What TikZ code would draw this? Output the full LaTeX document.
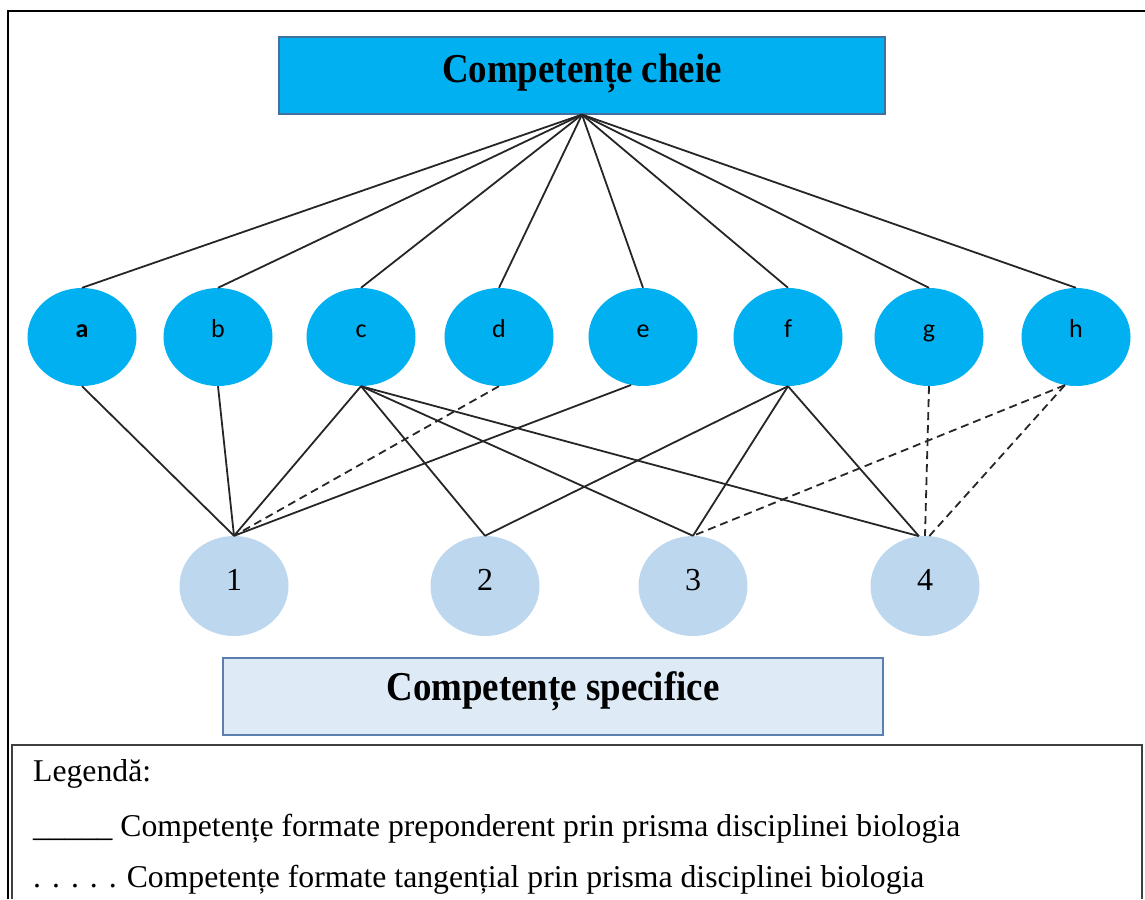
\documentclass[tikz,border=0pt]{standalone}
\usepackage{fontspec}
\usepackage{graphicx}
\setmainfont{Liberation Serif}
\newfontfamily\calfont{Carlito}
\usetikzlibrary{shapes.geometric}
\definecolor{keyblue}{HTML}{00B0F0}
\definecolor{keyborder}{HTML}{41719C}
\definecolor{specblue}{HTML}{BDD7EE}
\definecolor{specbox}{HTML}{DEEBF7}
\definecolor{specborder}{HTML}{5B7FAF}
\newcommand{\legdot}{.\hspace{11pt}}
\begin{document}
\begin{tikzpicture}[x=1pt,y=-1pt,
  titlebox/.style={draw=keyborder, line width=1.2pt, fill=keyblue, minimum width=606pt, minimum height=77pt, inner sep=0pt, text height=25pt, text depth=12pt, font=\fontsize{41}{41}\selectfont\bfseries},
  specbig/.style={draw=specborder, line width=1.2pt, fill=specbox, minimum width=660pt, minimum height=77pt, inner sep=0pt, text height=20pt, text depth=13pt, font=\fontsize{41}{41}\selectfont\bfseries},
  keycell/.style={ellipse, fill=keyblue, minimum width=109pt, minimum height=98pt, inner sep=0pt, text height=5pt, text depth=5pt, font=\calfont\fontsize{26}{26}\selectfont},
  speccell/.style={ellipse, fill=specblue, minimum width=109pt, minimum height=100pt, inner sep=0pt, text height=12pt, text depth=4pt, font=\fontsize{32}{32}\selectfont},
  link/.style={line width=1.8pt, black!85},
  weak/.style={link, dash pattern=on 8pt off 5pt},
  legtext/.style={anchor=base west, inner sep=0pt, font=\fontsize{31.7}{31.7}\selectfont\frenchspacing},
  frameline/.style={line width=2pt, black},
  legendline/.style={line width=2.5pt, black!75}
]
\useasboundingbox (0,0) rectangle (1145,899);
% outer frame
\draw[frameline] (8,899) -- (8,11) -- (1145,11);
% key competences
\node[titlebox] (kc) at (582,75.5) {\scalebox{0.9}[1]{Competențe cheie}};
\node[keycell] (a) at (82,337) {\textbf{a}};
\node[keycell] (b) at (218,337) {b};
\node[keycell] (c) at (361,337) {c};
\node[keycell] (d) at (499,337) {d};
\node[keycell] (e) at (643,337) {e};
\node[keycell] (f) at (788,337) {f};
\node[keycell] (g) at (929,337) {g};
\node[keycell] (h) at (1076,337) {h};
% specific competences
\node[speccell] (s1) at (234,586) {1};
\node[speccell] (s2) at (485,586) {2};
\node[speccell] (s3) at (693,586) {3};
\node[speccell] (s4) at (925,586) {4};
\node[specbig] (sc) at (553,696.5) {\scalebox{0.9}[1]{Competențe specifice}};
% upper links
\foreach \n in {a,b,c,d,e,f,g,h}
  \draw[link] (kc.south) -- (\n.north);
% lower links
\draw[link] (a.south) -- (s1.north);
\draw[link] (b.south) -- (s1.north);
\draw[link] (c.south) -- (s1.north);
\draw[weak] (d.south) -- (s1.north);
\draw[link] (e.256) -- (s1.north);
\draw[link] (c.south) -- (s2.north);
\draw[link] (c.south) -- (s3.north);
\draw[link] (c.south) -- (s4.97);
\draw[link] (f.south) -- (s2.north);
\draw[link] (f.south) -- (s3.north);
\draw[link] (f.south) -- (s4.97);
\draw[weak] (g.south) -- (s4.north);
\draw[weak] (h.257) -- (s3.north);
\draw[weak] (h.257) -- (s4.85);
% legend
\draw[legendline] (12,899) -- (12,745) -- (1142,745) -- (1142,899);
\node[legtext] (leg0) at (33,781) {Legendă:};
\node[legtext] (leg1) at (33,836) {\_\_\_\_\_ Competențe formate preponderent prin prisma disciplinei biologia};
\node[legtext] (leg2) at (33,887) {\legdot\legdot\legdot\legdot.\hspace{10pt}Competențe formate tangențial prin prisma disciplinei biologia};
\end{tikzpicture}
\end{document}
